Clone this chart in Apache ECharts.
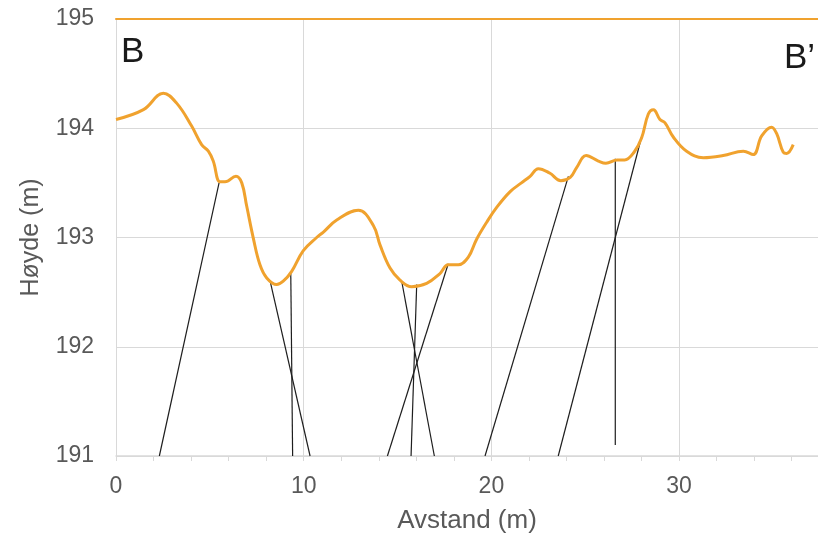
<!DOCTYPE html>
<html>
<head>
<meta charset="utf-8">
<script src="https://cdn.jsdelivr.net/npm/echarts@6/dist/echarts.min.js"></script>
<style>
  html, body { margin: 0; padding: 0; background: #ffffff; }
  #chart { width: 818px; height: 539px; }
</style>
</head>
<body>
<div id="chart"></div>
<script>
// Terrain profile B–B' (distance along section, elevation)
const profileX = [0, 1.46, 2.52, 3.23, 4.03, 4.56, 4.92, 5.18, 5.54, 5.81, 6.39, 6.7, 6.96, 7.32, 7.67,
  8.03, 8.56, 8.91, 9.36, 9.98, 10.69, 11.05, 11.76, 12.91, 13.71, 14.07, 14.6, 15.13, 15.75,
  16.55, 17.26, 17.7, 18.24, 18.77, 19.2, 19.75, 20.3, 21.0, 21.6, 22.06, 22.5, 23.1, 23.7, 24.2, 24.54,
  25.05, 25.7, 26.1, 26.7, 27.1, 27.6, 28.0, 28.36, 28.63, 28.98, 29.25, 29.69, 30.4, 31.29, 32.35,
  33.42, 33.95, 34.4, 34.93, 35.2, 35.55, 35.73, 36.08];
const profileY = [194.08, 194.17, 194.32, 194.23, 194.02, 193.85, 193.79, 193.70, 193.51, 193.51, 193.56,
  193.5, 193.29, 192.99, 192.75, 192.63, 192.57, 192.6, 192.69, 192.88, 193.0, 193.05, 193.16, 193.25,
  193.11, 192.93, 192.72, 192.61, 192.55, 192.58, 192.67, 192.75, 192.75, 192.82, 192.98, 193.14, 193.28,
  193.42, 193.5, 193.56, 193.63, 193.59, 193.52, 193.55, 193.64, 193.75, 193.7, 193.68, 193.71, 193.71,
  193.78, 193.91, 194.13, 194.17, 194.08, 194.05, 193.92, 193.79, 193.73, 193.75, 193.79, 193.76, 193.93,
  194.01, 193.95, 193.78, 193.77, 193.85];

// Structure lines: from a point on the surface down into the section
const structTopX = [5.49, 8.2, 9.31, 15.22, 16.02, 17.7, 24.1, 26.6, 28.0];
const structTopY = [193.5, 192.61, 192.69, 192.6, 192.57, 192.76, 193.56, 193.72, 193.92];
const structBotX = [2.31, 10.34, 9.41, 16.96, 15.72, 14.46, 19.66, 26.6, 23.56];
const structBotY = [191, 191, 191, 191, 191, 191, 191, 191.1, 191];

// Axis settings
const xMin = 0, xMax = 37.4, xLabelStep = 10, xTickStep = 2;
const yMin = 191, yMax = 195, yStep = 1;

const FONT = "'Liberation Sans', Arial, sans-serif";
const GREY_TEXT = '#595959';
const GRID = '#d9d9d9';
const ORANGE = '#f0a22e';

const profileData = profileX.map((x, i) => [x, profileY[i]]);

const structSeries = structTopX.map((x, i) => ({
  type: 'line',
  xAxisIndex: 0,
  yAxisIndex: 0,
  data: [[x, structTopY[i]], [structBotX[i], structBotY[i]]],
  showSymbol: false,
  silent: true,
  z: 3,
  lineStyle: { color: '#1e1e1e', width: 1.2 }
}));

const chart = echarts.init(document.getElementById('chart'), null, { renderer: 'canvas' });

chart.setOption({
  animation: false,
  backgroundColor: '#ffffff',
  textStyle: { fontFamily: FONT },
  grid: { left: 116, right: 0, top: 19, bottom: 80, containLabel: false },
  xAxis: [
    {
      type: 'value',
      position: 'bottom',
      min: xMin, max: xMax, interval: xTickStep,
      axisLine: { show: true, lineStyle: { color: GRID, width: 1.5 } },
      axisTick: { show: true, length: 5, lineStyle: { color: GRID, width: 1 } },
      axisLabel: {
        color: GREY_TEXT, fontSize: 23, fontFamily: FONT, margin: 19,
        showMaxLabel: false,
        formatter: v => (Math.abs(v % xLabelStep) < 1e-9 ? String(v) : '')
      },
      splitLine: { show: false },
      name: 'Avstand (m)',
      nameLocation: 'middle',
      nameGap: 52,
      nameTextStyle: { color: GREY_TEXT, fontSize: 26, fontFamily: FONT }
    },
    {
      type: 'value',
      position: 'top',
      min: xMin, max: xMax, interval: xLabelStep,
      axisLine: { show: true, lineStyle: { color: ORANGE, width: 2 } },
      axisTick: { show: false },
      axisLabel: { show: false },
      splitLine: { show: true, lineStyle: { color: GRID, width: 1 } }
    }
  ],
  yAxis: {
    type: 'value',
    min: yMin, max: yMax, interval: yStep,
    axisLine: { show: false },
    axisTick: { show: false },
    axisLabel: { color: GREY_TEXT, fontSize: 23, fontFamily: FONT, margin: 22, padding: [0, 0, 4, 0] },
    splitLine: { show: true, lineStyle: { color: GRID, width: 1 } },
    name: 'Høyde (m)',
    nameLocation: 'middle',
    nameRotate: 90,
    nameGap: 72,
    nameTextStyle: { color: GREY_TEXT, fontSize: 25, fontFamily: FONT }
  },
  graphic: [
    { type: 'text', left: 121, top: 35, style: { text: 'B', fontSize: 35, fontFamily: FONT, fill: '#1a1a1a' } },
    { type: 'text', right: 3, top: 41, style: { text: 'B\u2019', fontSize: 35, fontFamily: FONT, fill: '#1a1a1a' } }
  ],
  series: [
    {
      type: 'line',
      name: 'Terreng',
      xAxisIndex: 0,
      yAxisIndex: 0,
      data: profileData,
      smooth: 0.4,
      showSymbol: false,
      z: 4,
      lineStyle: { color: ORANGE, width: 3 }
    },
    ...structSeries
  ]
});
</script>
</body>
</html>
